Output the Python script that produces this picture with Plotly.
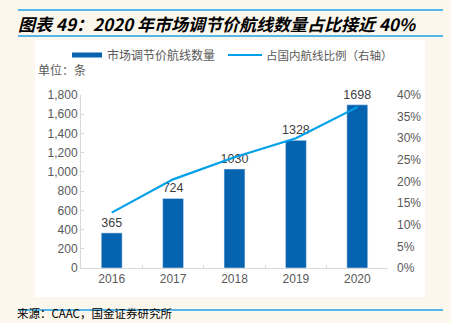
import plotly.graph_objects as go

years = ["2016", "2017", "2018", "2019", "2020"]
routes = [365, 724, 1030, 1328, 1698]
share = [12.8, 20.5, 25.6, 30.0, 37.2]
left_ticks = [0, 200, 400, 600, 800, 1000, 1200, 1400, 1600, 1800]
left_tick_text = ["0", "200", "400", "600", "800", "1,000", "1,200", "1,400", "1,600", "1,800"]
right_ticks = [0, 5, 10, 15, 20, 25, 30, 35, 40]
right_tick_text = [f"{v}%" for v in right_ticks]
bar_name = "市场调节价航线数量"
line_name = "占国内航线比例（右轴）"

BAR = "#0563b0"
LINE = "#00a0e9"
GRAY = "#595959"
FONT = "Noto Sans CJK SC"

# pixel helpers (plot area: x 81..388, y 95..268)
def px(x):
    return (x - 81) / 307

def py(y):
    return (268 - y) / 173

fig = go.Figure()
fig.add_trace(go.Bar(
    x=years, y=routes, name=bar_name, marker_color=BAR,
    width=0.34, text=[str(v) for v in routes], textposition="outside",
    constraintext="none",
    textfont=dict(color="#404040", size=12.5, family="Liberation Sans"),
    cliponaxis=False, showlegend=False,
))
fig.add_trace(go.Scatter(
    x=years, y=share, name=line_name, yaxis="y2",
    mode="lines", line=dict(color=LINE, width=2.2), showlegend=False,
))

fig.update_layout(
    width=451, height=323,
    margin=dict(l=81, r=63, t=95, b=55),
    paper_bgcolor="#fcf7ec", plot_bgcolor="white",
    font=dict(family=FONT, color=GRAY, size=12),
    showlegend=False,
    xaxis=dict(showline=True, linecolor="#d9d9d9", ticks="inside", tickson="boundaries",
               ticklen=3, tickcolor="#d9d9d9", tickfont=dict(family="Liberation Sans", size=12, color=GRAY),
               showgrid=False, fixedrange=True),
    yaxis=dict(range=[0, 1800], tickvals=left_ticks, ticktext=left_tick_text,
               showline=True, linecolor="#d9d9d9", ticks="inside", ticklen=3, tickcolor="#d9d9d9",
               showgrid=False, zeroline=False,
               tickfont=dict(family="Liberation Sans", size=12, color=GRAY)),
    yaxis2=dict(range=[0, 40], tickvals=right_ticks, ticktext=right_tick_text,
                overlaying="y", side="right", showline=False, showgrid=False, zeroline=False,
                ticks="", ticklabelstandoff=8,
                tickfont=dict(family="Liberation Sans", size=12, color=GRAY)),
)

# white chart panel
fig.add_shape(type="rect", xref="paper", yref="paper", layer="below",
              x0=px(35), x1=px(425), y0=py(297), y1=py(40),
              fillcolor="white", line=dict(width=0))
# title / footer rules
for yy in [10, 36, 310]:
    fig.add_shape(type="line", xref="paper", yref="paper",
                  x0=px(18), x1=px(443), y0=py(yy), y1=py(yy),
                  line=dict(color="#1ea0e6", width=1.5))

# manual legend
fig.add_shape(type="rect", xref="paper", yref="paper",
              x0=px(72), x1=px(102), y0=py(57.5), y1=py(52.5),
              fillcolor=BAR, line=dict(width=0))
fig.add_shape(type="line", xref="paper", yref="paper",
              x0=px(228), x1=px(262), y0=py(55), y1=py(55),
              line=dict(color=LINE, width=2.2))
fig.add_annotation(xref="paper", yref="paper", x=px(105), y=py(55),
                   xanchor="left", yanchor="middle", showarrow=False,
                   text=bar_name, font=dict(family=FONT, size=12, color=GRAY))
fig.add_annotation(xref="paper", yref="paper", x=px(264), y=py(55),
                   xanchor="left", yanchor="middle", showarrow=False,
                   text=line_name, font=dict(family=FONT, size=11.5, color=GRAY))

fig.add_annotation(xref="paper", yref="paper", x=px(16), y=py(23),
                   xanchor="left", yanchor="middle", showarrow=False,
                   text="<b><i>图表 49：2020 年市场调节价航线数量占比接近 40%</i></b>",
                   font=dict(family=FONT, size=17, color="black"))
fig.add_annotation(xref="paper", yref="paper", x=px(36), y=py(69),
                   xanchor="left", yanchor="middle", showarrow=False,
                   text="单位：条", font=dict(family=FONT, size=12, color=GRAY))
fig.add_annotation(xref="paper", yref="paper", x=px(16), y=py(322),
                   xanchor="left", yanchor="bottom", showarrow=False,
                   text="来源：CAAC，国金证券研究所", font=dict(family=FONT, size=11.5, color="black"),
                   borderpad=0)

fig.write_html("out.html")
